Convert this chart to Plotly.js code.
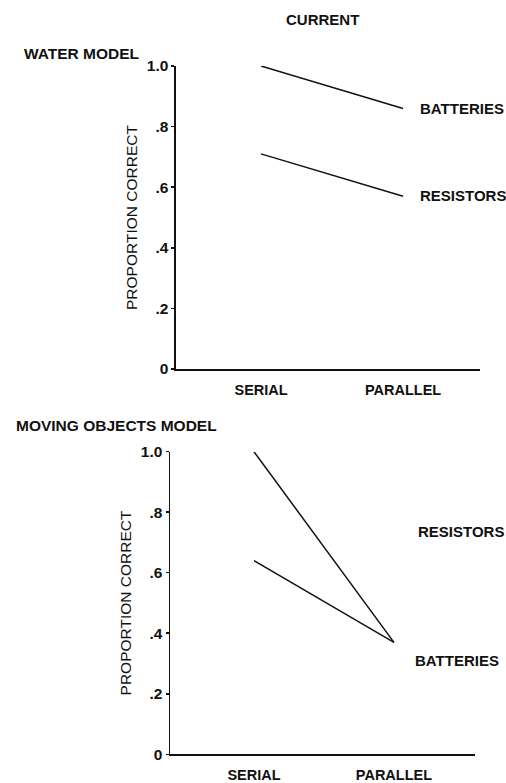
<!DOCTYPE html>
<html><head><meta charset="utf-8">
<script src="https://cdn.plot.ly/plotly-3.0.1.min.js"></script>
<style>html,body{margin:0;padding:0;background:#fff}</style>
</head><body><div id="chart" style="width:506px;height:783px"></div>
<script>
// Data
const conditions = ['SERIAL', 'PARALLEL'];
const waterBatteries = [1.0, 0.86];
const waterResistors = [0.71, 0.57];
const movingResistors = [1.0, 0.37];
const movingBatteries = [0.64, 0.37];
const yTickVals = [0, 0.2, 0.4, 0.6, 0.8, 1.0];
const yTickText = ['0', '.2', '.4', '.6', '.8', '1.0'];

const FONT = 'Liberation Sans, Arial, Helvetica, sans-serif';
const lineStyle = {color: '#111', width: 1.5};

function tr(y, xa, ya, name) {
  return {x: conditions, y: y, xaxis: xa, yaxis: ya, name: name, type: 'scatter',
    mode: 'lines', line: lineStyle, cliponaxis: false, showlegend: false, hoverinfo: 'skip'};
}
const data = [
  tr(waterBatteries, 'x', 'y', 'BATTERIES'),
  tr(waterResistors, 'x', 'y', 'RESISTORS'),
  tr(movingResistors, 'x2', 'y2', 'RESISTORS'),
  tr(movingBatteries, 'x2', 'y2', 'BATTERIES')
];

function xax(domain, range, anchor) {
  return {domain: domain, range: range, type: 'category', anchor: anchor,
    showline: true, linecolor: '#111', linewidth: 1.5, showgrid: false, zeroline: false,
    ticks: '', ticklabelstandoff: 7,
    tickfont: {family: FONT, size: 14.5, color: '#111', weight: 'bold'}, fixedrange: true};
}
function yax(domain, anchor) {
  return {domain: domain, range: [0, 1], anchor: anchor,
    showline: true, linecolor: '#111', linewidth: 1.5, showgrid: false, zeroline: false,
    ticks: 'outside', ticklen: 3, tickwidth: 1.5, tickcolor: '#111',
    tickvals: yTickVals, ticktext: yTickText,
    tickfont: {family: FONT, size: 15.5, color: '#111', weight: 'bold'},
    title: {text: 'PROPORTION CORRECT', standoff: 5, font: {family: FONT, size: 15.5, color: '#111'}},
    fixedrange: true};
}

function ann(text, x, y, xanchor, size) {
  return {text: text, x: x, y: y, xref: 'paper', yref: 'paper', xanchor: xanchor, yanchor: 'middle',
    showarrow: false, font: {family: FONT, size: size || 15, color: '#111', weight: 'bold'}};
}

const layout = {
  width: 506, height: 783,
  margin: {l: 0, r: 0, t: 0, b: 0},
  paper_bgcolor: '#fff', plot_bgcolor: '#fff',
  showlegend: false,
  xaxis: xax([0.3478, 0.9486], [-0.599, 1.542], 'y'),
  yaxis: yax([0.5287, 0.9157], 'x'),
  xaxis2: xax([0.336, 0.9387], [-0.6, 1.579], 'y2'),
  yaxis2: yax([0.0367, 0.4231], 'x2'),
  annotations: [
    ann('CURRENT', 0.6383, 0.9745, 'center'),
    ann('WATER MODEL', 0.0435, 0.9323, 'left', 15.5),
    ann('BATTERIES', 0.826, 0.862, 'left'),
    ann('RESISTORS', 0.826, 0.7497, 'left'),
    ann('MOVING OBJECTS MODEL', 0.0277, 0.4572, 'left', 15.5),
    ann('RESISTORS', 0.8221, 0.321, 'left'),
    ann('BATTERIES', 0.8162, 0.1562, 'left')
  ]
};

Plotly.newPlot('chart', data, layout, {staticPlot: true, displayModeBar: false});
</script>
</body></html>
